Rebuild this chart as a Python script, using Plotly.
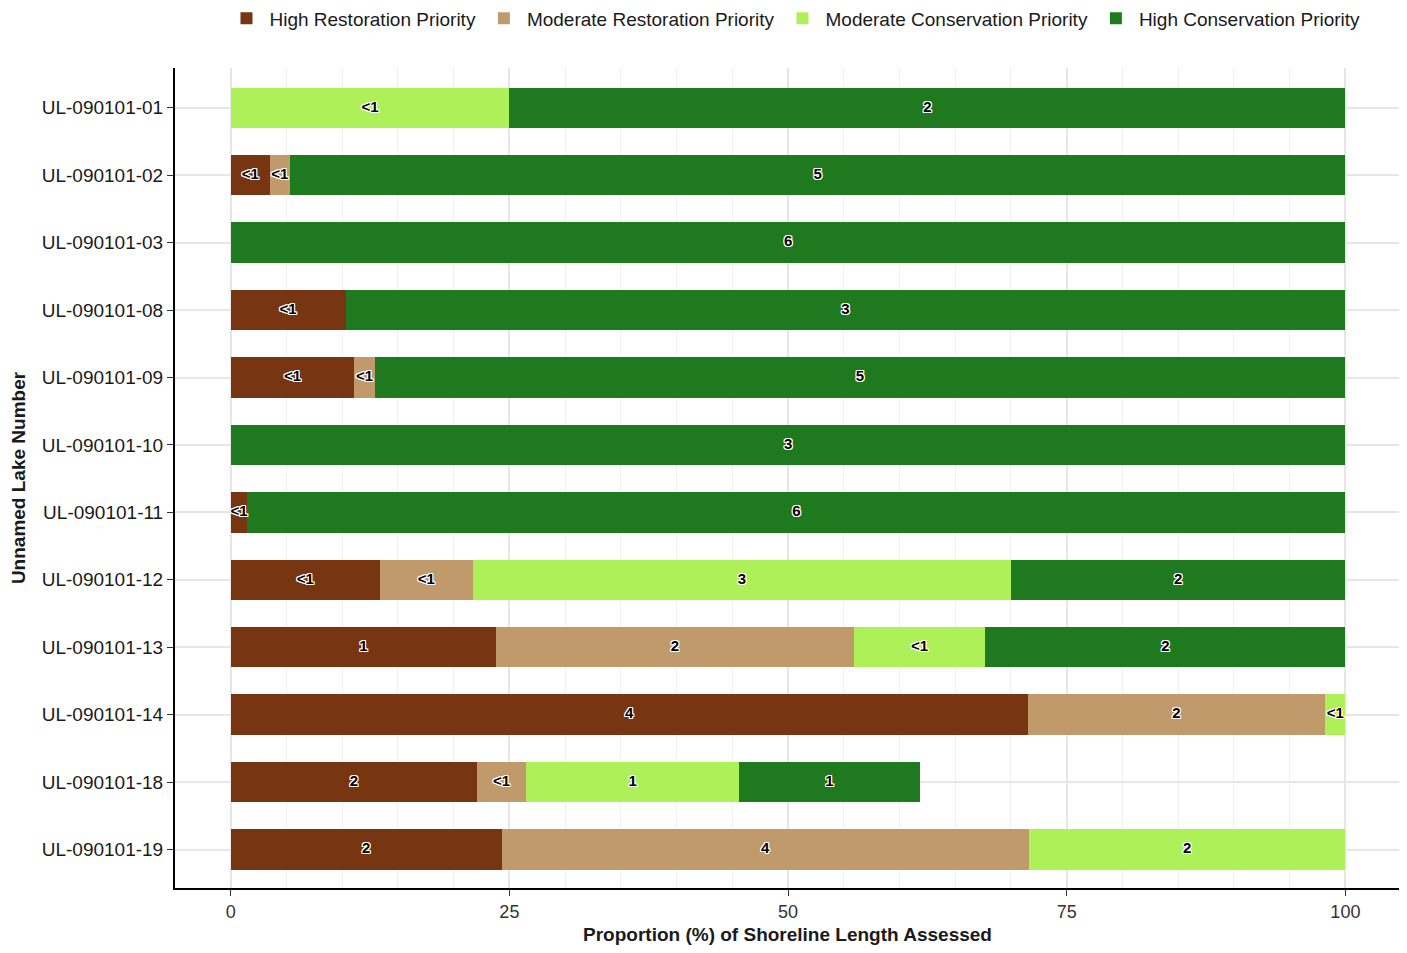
import plotly.graph_objects as go

lakes = ["UL-090101-01", "UL-090101-02", "UL-090101-03", "UL-090101-08", "UL-090101-09",
         "UL-090101-10", "UL-090101-11", "UL-090101-12", "UL-090101-13", "UL-090101-14",
         "UL-090101-18", "UL-090101-19"]

categories = ["High Restoration Priority", "Moderate Restoration Priority",
              "Moderate Conservation Priority", "High Conservation Priority"]

high_rest = [0, 3.5, 0, 10.3, 11.1, 0, 1.5, 13.4, 23.8, 71.5, 22.1, 24.3]
mod_rest = [0, 1.8, 0, 0, 1.8, 0, 0, 8.3, 32.1, 26.7, 4.4, 47.3]
mod_cons = [25.0, 0, 0, 0, 0, 0, 0, 48.3, 11.8, 1.8, 19.1, 28.4]
high_cons = [75.0, 94.7, 100, 89.7, 87.1, 100, 98.5, 30.0, 32.3, 0, 16.2, 0]

high_rest_lbl = ["", "<1", "", "<1", "<1", "", "<1", "<1", "1", "4", "2", "2"]
mod_rest_lbl = ["", "<1", "", "", "<1", "", "", "<1", "2", "2", "<1", "4"]
mod_cons_lbl = ["<1", "", "", "", "", "", "", "3", "<1", "<1", "1", "2"]
high_cons_lbl = ["2", "5", "6", "3", "5", "3", "6", "2", "2", "", "1", ""]

colors = ["#783512", "#C19A6B", "#AEF058", "#1F7A1F"]

series = [high_rest, mod_rest, mod_cons, high_cons]
labels = [high_rest_lbl, mod_rest_lbl, mod_cons_lbl, high_cons_lbl]

fig = go.Figure()
for name, vals, col in zip(categories, series, colors):
    fig.add_trace(go.Bar(
        y=lakes, x=vals, name=name, orientation="h",
        marker=dict(color=col, line=dict(width=0)),
        width=0.6, hoverinfo="x+y+name",
    ))

# label positions at segment midpoints
lx, ly, lt = [], [], []
for i, lake in enumerate(lakes):
    base = 0
    for vals, lbls in zip(series, labels):
        v = vals[i]
        if v > 0 and lbls[i]:
            lx.append(base + v / 2)
            ly.append(lake)
            lt.append(lbls[i])
        base += v

halo = ("1px 1px 0px white, -1px -1px 0px white, 1px -1px 0px white, -1px 1px 0px white, "
        "0px 1px 0px white, 0px -1px 0px white, 1px 0px 0px white, -1px 0px 0px white")
fig.add_trace(go.Scatter(
    x=lx, y=ly, text=lt, mode="text", showlegend=False, hoverinfo="skip",
    textfont=dict(family="Liberation Sans, Arial", size=15, color="black",
                  weight="bold", shadow=halo),
    textposition="middle center",
))

fig.update_layout(
    barmode="stack",
    width=1392, height=937,
    plot_bgcolor="white", paper_bgcolor="white",
    margin=dict(l=167, r=0, t=60, b=57, autoexpand=False),
    font=dict(family="Liberation Sans, Arial", color="#1a1a1a"),
    legend=dict(orientation="h", xref="container", yref="container",
                x=0.565, xanchor="center", y=0.989, yanchor="middle",
                font=dict(size=19, color="#1a1a1a"), traceorder="normal",
                itemwidth=36),
    showlegend=True,
)
fig.update_xaxes(
    range=[-5, 104.9], tickvals=[0, 25, 50, 75, 100], automargin=False,
    showgrid=True, gridcolor="#e6e6e6", gridwidth=1.5,
    minor=dict(dtick=5, showgrid=True, gridcolor="#f0f0f0", gridwidth=1),
    showline=True, linecolor="black", linewidth=2,
    ticks="outside", ticklen=6, tickcolor="#333", tickwidth=1,
    tickfont=dict(size=18, color="#333"),
    title=dict(text="<b>Proportion (%) of Shoreline Length Assessed</b>",
               font=dict(size=19, color="#1a1a1a"), standoff=14),
    zeroline=False,
)
fig.update_yaxes(
    categoryorder="array", categoryarray=lakes, automargin=False,
    range=[11.57, -0.59],
    showgrid=True, gridcolor="#e6e6e6", gridwidth=1.5,
    showline=True, linecolor="black", linewidth=2,
    ticks="outside", ticklen=6, tickcolor="#333", tickwidth=1,
    tickfont=dict(size=19, color="#1a1a1a"),
    title=dict(text="<b>Unnamed Lake Number</b>", font=dict(size=19, color="#1a1a1a"),
               standoff=13),
)

fig.write_html("out.html")
